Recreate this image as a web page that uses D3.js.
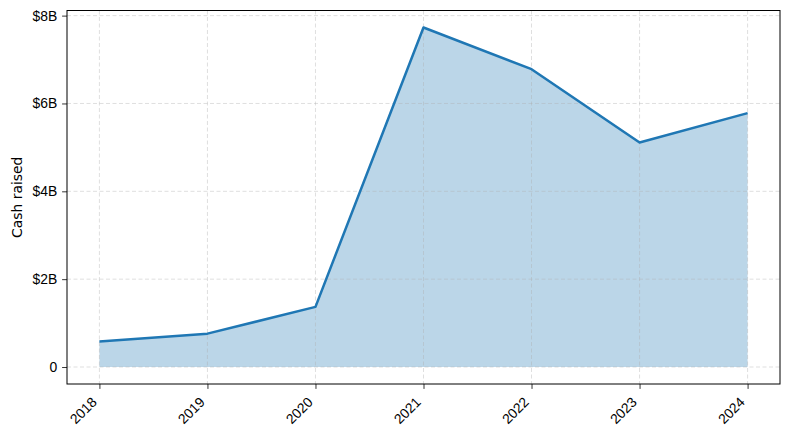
<!DOCTYPE html>
<html>
<head>
<meta charset="utf-8">
<script src="https://cdn.jsdelivr.net/npm/d3@7"></script>
<style>
  body { margin: 0; background: #fff; }
  svg { font-family: "DejaVu Sans", sans-serif; }
</style>
</head>
<body>
<svg width="790" height="439"></svg>
<script>
const width = 790;
const height = 439;
const margin = {top: 10.5, right: 10, bottom: 55, left: 67};
const svg = d3.select('svg');

// data (billions of dollars)
const years = [2018, 2019, 2020, 2021, 2022, 2023, 2024];
const cashRaised = [0.58, 0.76, 1.37, 7.73, 6.78, 5.11, 5.78];
const yTicks = [0, 2, 4, 6, 8];

const data = years.map((y, i) => ({year: y, value: cashRaised[i]}));

// matplotlib style 5% margins
const xPad = (d3.max(years) - d3.min(years)) * 0.05;
const yPad = d3.max(cashRaised) * 0.05;

const xScale = d3.scaleLinear()
  .domain([d3.min(years) - xPad, d3.max(years) + xPad])
  .range([margin.left, width - margin.right]);

const yScale = d3.scaleLinear()
  .domain([-yPad, d3.max(cashRaised) + yPad])
  .range([height - margin.bottom, margin.top]);

const plotW = width - margin.left - margin.right;
const plotH = height - margin.top - margin.bottom;

// area fill
svg.append('path')
  .datum(data)
  .attr('fill', '#1f77b4')
  .attr('fill-opacity', 0.3)
  .attr('d', d3.area()
    .x(d => xScale(d.year))
    .y0(yScale(0))
    .y1(d => yScale(d.value)));

// grid
const grid = svg.append('g')
  .attr('stroke', '#b0b0b0')
  .attr('stroke-opacity', 0.5)
  .attr('stroke-width', 0.8)
  .attr('stroke-dasharray', '4,2.5');

grid.selectAll('.vg').data(years).enter().append('line')
  .attr('x1', d => xScale(d)).attr('x2', d => xScale(d))
  .attr('y1', margin.top).attr('y2', height - margin.bottom);

grid.selectAll('.hg').data(yTicks).enter().append('line')
  .attr('y1', d => yScale(d)).attr('y2', d => yScale(d))
  .attr('x1', margin.left).attr('x2', width - margin.right);

// line
svg.append('path')
  .datum(data)
  .attr('fill', 'none')
  .attr('stroke', '#1f77b4')
  .attr('stroke-width', 2.5)
  .attr('stroke-linejoin', 'round')
  .attr('d', d3.line()
    .x(d => xScale(d.year))
    .y(d => yScale(d.value)));

// axes
const xAxis = d3.axisBottom(xScale)
  .tickValues(years)
  .tickFormat(d3.format('d'))
  .tickSize(4.9)
  .tickSizeOuter(0);

const yAxis = d3.axisLeft(yScale)
  .tickValues(yTicks)
  .tickFormat(d => d === 0 ? '0' : `$${d}B`)
  .tickSize(4.9)
  .tickSizeOuter(0);

const gx = svg.append('g')
  .attr('transform', `translate(0, ${height - margin.bottom})`)
  .call(xAxis);
gx.select('.domain').remove();
gx.selectAll('text')
  .style('font-size', '13.9px')
  .attr('fill', '#000')
  .attr('text-anchor', 'end')
  .attr('x', 0)
  .attr('y', 0)
  .attr('dy', null)
  .attr('transform', 'translate(-2.3, 19) rotate(-45)');

const gy = svg.append('g')
  .attr('transform', `translate(${margin.left}, 0)`)
  .call(yAxis);
gy.select('.domain').remove();
gy.selectAll('text')
  .style('font-size', '13.9px')
  .attr('fill', '#000')
  .attr('x', -9.8);

svg.selectAll('.tick line').attr('stroke', '#000').attr('stroke-width', 0.8);

// frame
svg.append('rect')
  .attr('x', margin.left)
  .attr('y', margin.top)
  .attr('width', plotW)
  .attr('height', plotH)
  .attr('fill', 'none')
  .attr('stroke', '#000')
  .attr('stroke-width', 1);

// y label
svg.append('text')
  .attr('transform', 'rotate(-90)')
  .attr('x', -(margin.top + plotH / 2))
  .attr('y', 21.5)
  .style('text-anchor', 'middle')
  .style('font-size', '13.9px')
  .text('Cash raised');
</script>
</body>
</html>
